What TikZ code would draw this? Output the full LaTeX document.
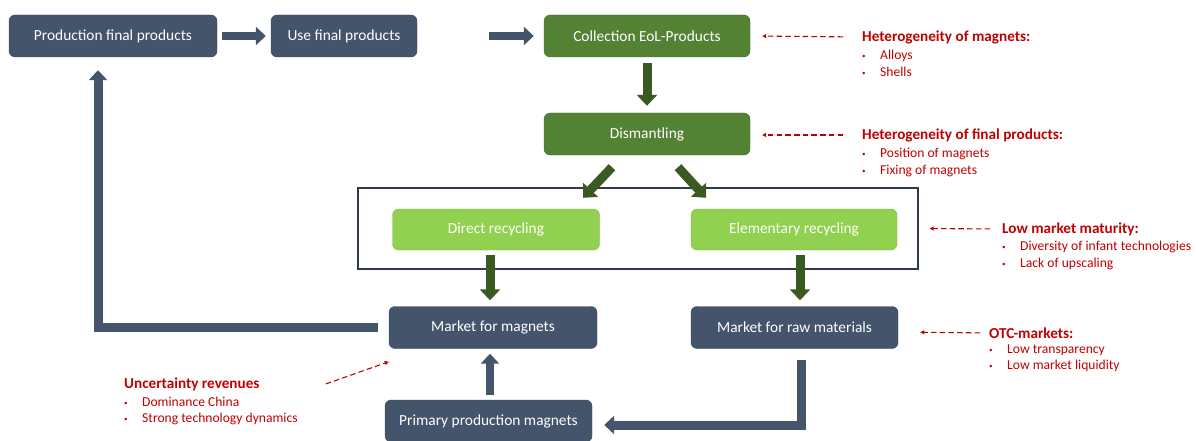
\documentclass[tikz,border=0pt]{standalone}
\usepackage{fontspec}
\setmainfont{Carlito}
\usetikzlibrary{arrows.meta,positioning,shadows}
\definecolor{slate}{HTML}{44546A}
\definecolor{leaf}{HTML}{548235}
\definecolor{lime}{HTML}{92D050}
\definecolor{moss}{HTML}{3B5A22}
\definecolor{alert}{HTML}{C00000}
\newcommand{\noteitem}[1]{\makebox[18pt][l]{\raisebox{1pt}{\scriptsize\textbullet}}#1}
\begin{document}
\begin{tikzpicture}[x=1pt, y=-1pt, line join=miter,
  box/.style={rounded corners=6pt, draw=slate!85!black, fill=slate, text=white, minimum width=208pt, minimum height=42pt, inner sep=0pt, font=\fontsize{15.4}{17}\selectfont},
  green box/.style={box, draw=leaf!85!black, fill=leaf},
  lime box/.style={box, draw=lime!90!black, fill=lime, minimum height=41pt},
  frame/.style={draw=slate!70!black, line width=1.3pt, fill=white, minimum width=560pt, minimum height=81pt, drop shadow={shadow xshift=1.2pt, shadow yshift=-1.2pt, opacity=.35}},
  flow/.style={draw=slate, line width=8pt, -{Triangle[length=10pt, width=18pt]}},
  green flow/.style={flow, draw=moss, line width=9pt, -{Triangle[length=11pt, width=20pt]}},
  note/.style={draw=alert, line width=1.1pt, dash pattern=on 5.5pt off 3.2pt, -{Triangle[length=4pt, width=4pt]}},
  head/.style={text=alert, inner sep=0pt, anchor=west, font=\fontsize{15.2}{17}\bfseries},
  items/.style={text=alert, inner sep=0pt, anchor=north west, align=left, font=\fontsize{13.6}{16.3}\selectfont}]
\useasboundingbox (0,0) rectangle (1196,441);

% chain of boxes
\node[frame] (rec) at (638,228.5) {};
\node[box] (prod) at (113,36) {Production final products};
\node[box, minimum width=146pt] (use) at (344,36) {Use final products};
\node[green box, minimum width=206pt] (coll) at (647,36) {Collection EoL-Products};
\node[green box, minimum width=206pt] (dism) at (647,134) {Dismantling};
\node[lime box, minimum width=207pt] (direct) at (496,229.5) {Direct recycling};
\node[lime box, minimum width=206pt] (elem) at (794,229.5) {Elementary recycling};
\node[box] (mmag) at (493,327.5) {Market for magnets};
\node[box, minimum width=207pt] (mraw) at (794.5,327.5) {Market for raw materials};
\node[box, minimum width=207pt] (prim) at (488.5,421) {Primary production magnets};

\begin{scope}
\draw[flow, shorten <=5pt, shorten >=5pt] (prod.east) -- (use.west);
\draw[flow, shorten <=72pt, shorten >=10pt] (use.east) -- (coll.west);
\draw[green flow, shorten <=6pt, shorten >=7pt] (coll.south) -- (dism.north);
\draw[green flow] ([xshift=-35pt,yshift=-12pt]dism.south) -- ([xshift=87pt,yshift=11pt]direct.north);
\draw[green flow] ([xshift=31pt,yshift=-12pt]dism.south) -- ([xshift=-88pt,yshift=11pt]elem.north);
\draw[green flow, shorten <=5pt, shorten >=6pt] ([xshift=-6pt]direct.south) -- ([xshift=-3pt]mmag.north);
\draw[green flow, shorten <=5pt, shorten >=6pt] ([xshift=6pt]elem.south) -- ([xshift=5.5pt]mraw.north);
\draw[flow, shorten <=5pt, shorten >=5pt] ([xshift=1.5pt]prim.north) -- ([xshift=-3pt]mmag.south);
\draw[flow, line width=9pt, shorten <=11pt, shorten >=12pt] ([xshift=6.5pt]mraw.south) |- ([yshift=-4pt]prim.east);
\draw[flow, line width=9pt, shorten <=11pt, shorten >=13pt] (mmag.west) -| ([xshift=-15pt]prod.south);
\end{scope}

% barriers
\node[head] (h1) at (862,37) {Heterogeneity of magnets:};
\node[items] at ([yshift=-6.5pt]h1.south west) {\noteitem{Alloys}\\\noteitem{Shells}};
\node[head] (h2) at (862,135) {Heterogeneity of final products:};
\node[items] at ([yshift=-6.5pt]h2.south west) {\noteitem{Position of magnets}\\\noteitem{Fixing of magnets}};
\node[head] (h3) at (1002,229) {Low market maturity:};
\node[items] at ([yshift=-5.5pt]h3.south west) {\noteitem{Diversity of infant technologies}\\\noteitem{Lack of upscaling}};
\node[head] (h4) at (989,333) {OTC-markets:};
\node[items] at ([yshift=-6pt]h4.south west) {\noteitem{Low transparency}\\\noteitem{Low market liquidity}};
\node[head] (h5) at (124,384) {Uncertainty revenues};
\node[items] at ([yshift=-6pt]h5.south west) {\noteitem{Dominance China}\\\noteitem{Strong technology dynamics}};

\draw[note, shorten <=19pt, shorten >=12pt] (h1.west) -- (coll.east);
\draw[note, shorten <=19pt, shorten >=12pt] (h2.west) -- ([yshift=-1pt]dism.east);
\draw[note, shorten <=12pt, shorten >=11pt] (h3.west) -- (rec.east);
\draw[note, shorten <=9pt, shorten >=22pt] (h4.west) -- ([yshift=-4.5pt]mraw.east);
\draw[note] ([xshift=66pt]h5.east) -- ([yshift=-13pt]mmag.south west);
\end{tikzpicture}
\end{document}
